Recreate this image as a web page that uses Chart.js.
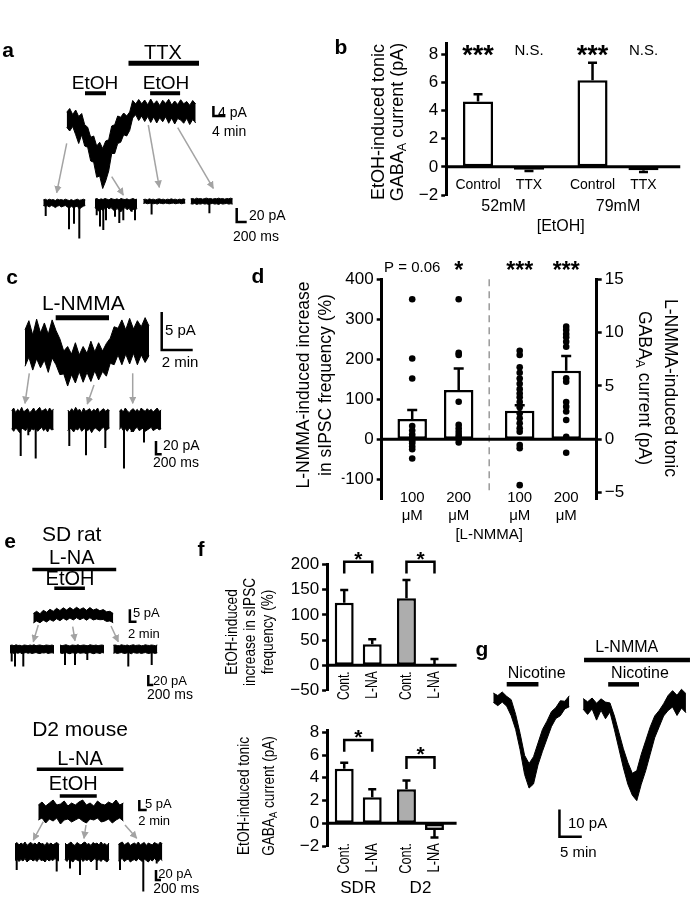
<!DOCTYPE html>
<html>
<head>
<meta charset="utf-8">
<script src="https://cdn.jsdelivr.net/npm/chart.js@4.4.0/dist/chart.umd.min.js"></script>
<style>
  html, body { margin: 0; background: #fff; }
  #fig { position: relative; width: 690px; height: 900px; overflow: hidden;
         font-family: "Liberation Sans", Arial, sans-serif; color: #000; }
  #fig canvas { position: absolute; }
  .tx { position: absolute; white-space: nowrap; line-height: 1; text-align: center; }
  .tx sub { font-size: 0.7em; vertical-align: -0.25em; line-height: 0; }
  svg { position: absolute; left: 0; top: 0; }
</style>
</head>
<body>
<div id="fig"></div>
<script>
const FONT = '"Liberation Sans", Arial, sans-serif';
Chart.defaults.font.family = FONT;
Chart.defaults.color = '#000';

// ---------- panel a : tonic current trace (pA, 1 min samples) ----------
const aMainTop = [3.5, 5.0, 2.6, 4.4, 1.8, 3.0, -1.5, -2.5, -6.5, -6.0, -10, -8.5, -11, -8, -7.5, -2.0, -1.5, 2.0, 1.5, 3.2, 2.0, 3.6,
                  8.2, 6.8, 8.6, 6.9, 8.4, 6.5, 8.8, 6.7, 8.1, 6.2, 8.3, 7.0, 8.7, 6.4, 8.0, 6.6, 8.5, 6.9, 7.8, 6.3, 8.2, 6.8];
const aMainBot = [-2.5, -4.0, -2.2, -5.5, -9.0, -5.5, -10, -10.5, -16, -16.5, -22.5, -22, -27, -24, -20, -13, -13, -9, -8.5, -5.5, -6, -3.8,
                  1.2, 2.5, 0.2, 2.0, -0.2, 1.8, -0.6, 1.6, -0.8, 1.3, -0.3, 1.7, -0.9, 1.2, -1.2, 1.0, 0.4, -0.9, 1.1, -1.4, 0.6, -0.8];
const aEtOH1 = [6.1, 13.1], aTTX = [20.6, 44.1], aEtOH2 = [27.8, 37.8];   // min
// sweeps (pA, 40 ms samples) and sIPSC events (ms, pA)
const aSw1Top = [4, 5, 3.5, 5, 4, 4.5, 3, 5, 4, 4.5, 3.5, 5, 4, 3, 4.5, 3, 4, 5, 3.5, 4, 5, 4];
const aSw1Bot = [-4, -5, -4.5, -6, -4, -5, -7, -5, -4, -6, -5, -4, -6, -8, -5, -7, -6, -5, -9, -7, -5, -4];
const aSw1EvT = [48, 514, 614, 720], aSw1EvA = [-19, -38, -30, -51];
const aSw2Top = [5, 6, 4, 5.5, 4.5, 6, 5, 4, 6, 5, 4.5, 5.5, 4, 6, 5, 4.5, 5.5, 4, 5, 6, 4.5, 5];
const aSw2Bot = [-7, -10, -12, -9, -11, -8, -6, -9, -7, -10, -12, -8, -11, -13, -9, -7, -10, -8, -12, -9, -11, -8];
const aSw2EvT = [34, 100, 166, 220, 400, 486, 566, 734, 800], aSw2EvA = [-18, -34, -39, -25, -20, -29, -25, -13, -25];
const aSw3Top = [4.5, 5, 4, 5.5, 4.5, 5, 4, 5, 5.5, 4.5, 5, 4, 5, 4.5, 5.5, 4.5, 5, 4, 5, 4.5, 5.5, 4.5];
const aSw3Bot = [-1, -0.5, -1.5, -1, -0.5, -1.5, -1, -2, -0.5, -1, -1.5, -0.5, -1, -1.5, -1, -0.5, -1.5, -1, -0.5, -1.5, -1, -0.5];
const aSw3EvT = [166], aSw3EvA = [-17];
const aSw4Top = [5.5, 6, 5, 6.5, 5.5, 6, 5, 6, 6.5, 5.5, 6, 5, 6, 5.5, 6.5, 5.5, 6, 5, 6, 5.5, 6.5, 5.5];
const aSw4Bot = [-1.5, -2, -1, -2.5, -1.5, -2, -1, -2, -1.5, -2.5, -1.5, -1, -2, -1.5, -2.5, -1, -2, -1.5, -1, -2, -1.5, -2];
const aSw4EvT = [374], aSw4EvA = [-15];

// ---------- panel b ----------
const bGroups = ['52mM', '79mM'];
const bControl = [4.65, 6.15], bControlErr = [0.5, 1.25];
const bTTX = [-0.2, -0.25], bTTXErr = [0.1, 0.12];
const bSig = [['***', '***'], ['N.S.', 'N.S.']];
const bTicks = [-2, 0, 2, 4, 6, 8];

// ---------- panel c ----------
const cMainTop = [2.0, 3.2, 1.3, 3.4, 1.6, 2.9, 1.4, 3.3, 1.9, 0.8, -0.8, -0.2, -1.2, 0.3, -1.3, -0.2, -1.1, 0.5, -0.9, 0.3, -0.8, 0.2,
                  0.9, 2.4, 2.2, 3.3, 2.0, 3.5, 2.1, 3.2, 2.4, 3.6, 2.5];
const cMainBot = [-2.8, -1.6, -3.3, -1.8, -3.0, -2.0, -3.6, -1.7, -2.6, -3.9, -3.8, -5.4, -3.9, -5.0, -3.5, -4.9, -3.6, -4.8, -3.4, -4.6, -3.5, -4.1,
                  -2.4, -2.6, -1.3, -2.6, -1.2, -2.5, -1.1, -2.6, -1.3, -2.3, -1.4];
const cLNMMA = [1.98, 5.42];
const cSw1Top = [14, 18, 11, 16, 13, 19, 12, 15, 17, 11, 14, 18, 12, 16, 19, 13, 15, 17, 12, 18, 14, 16];
const cSw1Bot = [-13, -17, -12, -15, -19, -12, -14, -16, -11, -18, -13, -15, -12, -17, -14, -11, -16, -13, -18, -12, -15, -14];
const cSw1EvT = [316, 583, 842], cSw1EvA = [-54, -23, -58];
const cSw2Top = [15, 12, 17, 13, 19, 14, 16, 11, 18, 13, 15, 17, 12, 16, 14, 18, 11, 15, 17, 13, 16, 14];
const cSw2Bot = [-16, -12, -14, -18, -13, -15, -11, -17, -14, -12, -16, -13, -19, -14, -12, -15, -17, -13, -11, -16, -14, -12];
const cSw2EvT = [56, 642, 1320], cSw2EvA = [-39, -53, -42];
const cSw3Top = [13, 16, 12, 18, 14, 11, 15, 17, 13, 16, 12, 18, 15, 13, 17, 14, 16, 12, 15, 18, 13, 15];
const cSw3Bot = [-14, -11, -16, -13, -17, -12, -15, -18, -13, -11, -16, -14, -12, -17, -15, -13, -11, -16, -14, -12, -15, -13];
const cSw3EvT = [165, 435, 867], cSw3EvA = [-73, -18, -34];

// ---------- panel d ----------
const dConc = ['100 μM', '200 μM'];
const dFreq = [51, 123], dFreqErr = [22, 54];
const dTonic = [2.68, 6.43], dTonicErr = [0.52, 1.37];
const dFreqDots100 = [350, 202, 152, 33, 22, 12, 5, 0, -5, -10, -18, -25, -48];
const dFreqDots200 = [350, 216, 211, 94, 36, 27, 19, 11, 5, 0, -8];
const dTonicDots100 = [8.3, 7.9, 6.75, 6.24, 5.7, 5.2, 4.7, 4.3, 3.94, 3.5, 3.0, 2.44, 1.97, 1.5, 1.03, 0.71, -0.53, -0.84, -4.3];
const dTonicDots200 = [10.56, 10.25, 9.87, 9.56, 9.15, 8.68, 5.72, 5.4, 3.5, 3.06, 2.6, 1.81, 0.24, -1.26];
const dSig = ['P = 0.06', '*', '***', '***'];
const dTicksL = [-100, 0, 100, 200, 300, 400];
const dTicksR = [-5, 0, 5, 10, 15];

// ---------- panel e ----------
const e1MainTop = [1.0, 1.9, 0.9, 2.3, 1.5, 2.7, 1.9, 3.1, 2.2, 3.3, 2.4, 3.4, 2.5, 3.5, 2.6, 3.3, 2.3, 3.4, 2.4, 2.9, 2.1, 2.6, 1.7, 1.9, 1.0];
const e1MainBot = [-2.8, -2.0, -2.7, -1.7, -2.4, -1.4, -2.1, -1.1, -1.9, -0.9, -1.7, -0.8, -1.6, -0.7, -1.5, -0.8, -1.7, -0.7, -1.6, -1.2, -1.5, -1.4, -2.2, -2.0, -2.7];
const e1LNA = [-0.3, 24.9], e1EtOH = [6.3, 15.5];
const e2MainTop = [3.5, 5.0, 3.0, 4.5, 6.0, 3.5, 4.0, 5.5, 3.0, 4.5, 3.5, 5.0, 6.0, 3.5, 4.5, 3.0, 5.5, 4.0, 3.5, 5.0, 4.0, 6.0, 3.5, 4.5];
const e2MainBot = [-4.0, -3.0, -5.5, -3.5, -4.5, -3.0, -6.0, -4.0, -3.5, -5.0, -4.0, -3.0, -4.5, -5.5, -3.5, -4.0, -3.0, -5.0, -4.5, -3.5, -5.5, -4.0, -3.0, -4.5];
const e2LNA = [-0.4, 23], e2EtOH = [5.8, 15.8];
const eSw1Top = [7, 8, 6.5, 8.5, 7, 7.5, 6, 8, 7.5, 6.5, 8, 7, 8.5, 6.5, 7.5, 8, 7, 6.5, 8, 7.5, 7, 8, 6.5];
const eSw1Bot = [-8, -7, -9, -7.5, -8.5, -7, -9.5, -8, -7, -8.5, -7.5, -9, -8, -7, -8.5, -9, -7.5, -8, -7, -9, -8, -7.5, -8.5];
const eSw1EvT = [68, 200, 532], eSw1EvA = [-25, -35, -35];
const eSw2Top = [8, 6.5, 7.5, 8.5, 7, 6, 8, 7.5, 7, 8.5, 6.5, 7.5, 8, 7, 6.5, 8.5, 7.5, 7, 8, 6.5, 7.5, 8, 7];
const eSw2Bot = [-7.5, -9, -8, -7, -8.5, -9.5, -7.5, -8, -9, -7, -8.5, -8, -7.5, -9, -8, -7, -8.5, -9.5, -7.5, -8, -9, -7, -8];
const eSw2EvT = [200, 600, 1092], eSw2EvA = [-32, -32, -22];
const eSw3Top = [7.5, 8, 7, 6.5, 8.5, 7.5, 7, 8, 6.5, 7.5, 8.5, 7, 7.5, 8, 6.5, 7, 8.5, 7.5, 7, 8, 7.5, 6.5, 8];
const eSw3Bot = [-8.5, -7.5, -9, -8, -7, -8.5, -9, -7.5, -8, -9.5, -7, -8, -8.5, -7.5, -9, -8, -7, -8.5, -9, -7.5, -8, -9, -7.5];
const eSw3EvT = [600, 1536], eSw3EvA = [-35, -32];
const eSw4Top = [16, 19, 14, 18, 15, 20, 13, 17, 19, 15, 18, 14, 20, 16, 17, 13, 19, 15, 18, 14, 17, 19, 15];
const eSw4Bot = [-17, -14, -19, -15, -18, -13, -20, -16, -14, -18, -15, -19, -13, -17, -16, -20, -14, -18, -15, -17, -13, -16, -18];
const eSw4EvT = [68, 1668], eSw4EvA = [-36, -39];
const eSw5Top = [18, 14, 17, 20, 15, 13, 19, 16, 14, 18, 20, 15, 17, 13, 19, 16, 18, 14, 20, 15, 17, 13, 18];
const eSw5Bot = [-15, -19, -13, -17, -20, -14, -16, -18, -13, -19, -15, -17, -14, -20, -16, -13, -18, -15, -19, -14, -17, -20, -15];
const eSw5EvT = [200, 600, 1268], eSw5EvA = [-33, -46, -36];
const eSw6Top = [15, 18, 20, 14, 17, 19, 13, 16, 18, 15, 20, 14, 17, 19, 13, 18, 16, 14, 19, 17, 15, 20, 16];
const eSw6Bot = [-18, -15, -13, -19, -16, -14, -20, -17, -15, -18, -13, -16, -19, -14, -17, -20, -15, -18, -13, -16, -19, -14, -17];
const eSw6EvT = [68, 1000, 1536], eSw6EvA = [-36, -79, -23];

// ---------- panel f ----------
const fGroups = ['SDR', 'D2'];
const fFreqCont = [124, 132.7], fFreqContErr = [25, 36];
const fFreqLNA = [41.5, 1.5], fFreqLNAErr = [10, 11];
const fTonicCont = [4.8, 2.99], fTonicContErr = [0.53, 0.76];
const fTonicLNA = [2.28, -0.6], fTonicLNAErr = [0.71, 0.65];
const fFreqTicks = [-50, 0, 50, 100, 150, 200];
const fTonicTicks = [-2, 0, 2, 4, 6, 8];

// ---------- panel g (pA, 1 min samples) ----------
const gTr1Top = [1.8, 0.9, 2.2, 0.6, -0.6, -6, -13, -21, -24, -21.5, -16.5, -11.5, -8.5, -5, -3.5, -1, -1.2, 0.8];
const gTr1Bot = [-1.6, -2.8, -1.5, -3.0, -6.5, -11.5, -19, -28, -33, -31.5, -24.5, -19.5, -15, -10.5, -7.5, -6.5, -4, -3.2];
const gTr2Top = [2.4, 1.2, 2.6, 0.7, 2.3, 1.1, 0.8, -4, -10, -16, -21, -25, -24, -18, -13, -8, -4, -2, 0.5, 3.5, 5.3, 3.6, 5.8, 4.2];
const gTr2Bot = [-1.5, -3.4, -1.4, -5.5, -1.9, -5.0, -2.5, -9, -16, -23, -29, -33, -35, -29, -24, -18, -12, -8, -4, -2, -0.7, -3.8, -1.1, -2.8];
const gNic1 = [3.0, 10.1], gNic2 = [25.7, 32.6], gLNMMA = [20.3, 44.0];

const fig = document.getElementById('fig');

function mkCanvas(b) {
  const cv = document.createElement('canvas');
  cv.width = b.w; cv.height = b.h;
  cv.style.left = b.l + 'px'; cv.style.top = b.t + 'px';
  fig.appendChild(cv);
  return cv;
}

const sampleTimes = (n, dt, t0) => Array.from({ length: n }, (_, i) => t0 + i * dt);

function band(top, bot, dt, t0, dy) {
  const xs = sampleTimes(top.length, dt, t0 || 0);
  dy = dy || 0;
  return [
    { data: top.map((v, i) => ({ x: xs[i], y: v + dy })), borderColor: '#000', borderWidth: 1, fill: false },
    { data: bot.map((v, i) => ({ x: xs[i], y: v + dy })), borderColor: '#000', borderWidth: 1, fill: '-1', backgroundColor: '#000' }
  ];
}

function spikes(ts, amps, t0) {
  return {
    data: ts.flatMap((t, i) => [{ x: t0 + t, y: 0 }, { x: t0 + t, y: amps[i] }, { x: t0 + t, y: null }]),
    borderColor: '#000', borderWidth: 2, fill: false, spanGaps: false
  };
}

function drug(span, level, w) {
  return { data: [{ x: span[0], y: level }, { x: span[1], y: level }], borderColor: '#000', borderWidth: w, fill: false, borderCapStyle: 'butt' };
}

function scaleBar(x, y, dy, dx) {
  return { data: [{ x, y: y + dy }, { x, y }, { x: x + dx, y }], borderColor: '#000', borderWidth: 2.5, fill: false,
           borderCapStyle: 'butt', borderJoinStyle: 'miter' };
}

// trace chart: m = page px of x=0,y=0 and px per unit
function traceChart(b, m, datasets) {
  return new Chart(mkCanvas(b), {
    type: 'line',
    data: { datasets },
    options: {
      responsive: false, animation: false, events: [],
      layout: { padding: 0 },
      plugins: { legend: { display: false }, tooltip: { enabled: false } },
      elements: { point: { radius: 0 }, line: { tension: 0 } },
      scales: {
        x: { type: 'linear', display: false, min: (b.l - m.x0) / m.sx, max: (b.l + b.w - m.x0) / m.sx },
        y: { type: 'linear', display: false, min: (m.y0 - b.t - b.h) / m.sy, max: (m.y0 - b.t) / m.sy }
      }
    }
  });
}

// ---------- bar chart extras: zero line, error bars, dots, labels ----------
const figx = {
  id: 'figx',
  afterDatasetsDraw(chart, args, o) {
    const c = chart.ctx, A = chart.chartArea, sy = chart.scales.y;
    const metas = chart.data.datasets.map((d, i) => chart.getDatasetMeta(i));
    const val = (di, i) => chart.data.datasets[di].data[i];
    const y0 = sy.getPixelForValue(0);
    const font = f => f + ' ' + FONT;
    c.save();
    c.strokeStyle = '#000'; c.fillStyle = '#000'; c.lineCap = 'butt';

    if (o.split) {
      const x = chart.scales.x.getPixelForValue(0.5);
      c.save(); c.strokeStyle = '#9a9a9a'; c.lineWidth = 1.5; c.setLineDash([7, 5]);
      c.beginPath(); c.moveTo(x, sy.getPixelForValue(o.split[0])); c.lineTo(x, sy.getPixelForValue(o.split[1])); c.stroke();
      c.restore();
    }
    if (o.zeroExtend != null) {
      c.lineWidth = 3;
      c.beginPath(); c.moveTo(A.left - 1, y0); c.lineTo(A.right + o.zeroExtend, y0); c.stroke();
    }
    (o.errors || []).forEach((errs, di) => {
      const ys = chart.scales[metas[di].yAxisID];
      metas[di].data.forEach((b, i) => {
        const v = val(di, i), e = errs[i];
        if (v == null || e == null) return;
        const s = v < 0 ? -1 : 1;
        const ya = ys.getPixelForValue(v), yb = ys.getPixelForValue(v + s * e);
        c.lineWidth = 2.5;
        c.beginPath(); c.moveTo(b.x, ya); c.lineTo(b.x, yb);
        c.moveTo(b.x - o.cap, yb); c.lineTo(b.x + o.cap, yb); c.stroke();
      });
    });
    (o.dots || []).forEach((vals, di) => {
      const ys = chart.scales[metas[di].yAxisID];
      const i = chart.data.datasets[di].data.findIndex(v => v != null);
      const x = metas[di].data[i].x;
      vals.forEach(v => { c.beginPath(); c.arc(x, ys.getPixelForValue(v), o.dotR, 0, 2 * Math.PI); c.fill(); });
    });
    (o.sig || []).forEach((row, di) => row.forEach((t, i) => {
      if (!t) return;
      const star = t[0] === '*';
      c.font = font(star ? o.starFont : o.sigFont);
      c.textAlign = 'center'; c.textBaseline = 'alphabetic';
      c.fillText(t, metas[di].data[i].x, A.top + (star ? o.starY : o.sigY));
    }));
    if (o.brackets) {
      const B = o.brackets;
      B.y.forEach((yv, i) => {
        const xa = metas[0].data[i].x, xb = metas[1].data[i].x;
        const yp = sy.getPixelForValue(yv), yl = sy.getPixelForValue(B.leg[i]);
        c.lineWidth = 2.5;
        c.beginPath(); c.moveTo(xa, yl); c.lineTo(xa, yp); c.lineTo(xb, yp); c.lineTo(xb, yl); c.stroke();
        c.font = font(B.font); c.textAlign = 'center'; c.textBaseline = 'alphabetic';
        c.fillText(B.text[i], (xa + xb) / 2, yp + B.dy);
      });
    }
    if (o.barText) {
      const T = o.barText;
      metas.forEach((m, di) => {
        const lines = chart.data.datasets[di].label.split(' ');
        m.data.forEach((b, i) => {
          if (val(di, i) == null) return;
          c.font = font(T.font); c.textBaseline = 'middle';
          if (T.rot) {
            c.save(); c.translate(b.x, y0 + T.dy[0]); c.rotate(-Math.PI / 2); c.scale(T.squeeze || 1, 1);
            c.textAlign = 'right'; c.fillText(lines.join(' '), 0, 0); c.restore();
          } else {
            c.textAlign = 'center';
            lines.forEach((s, k) => c.fillText(s, b.x, y0 + T.dy[k]));
          }
        });
      });
    }
    if (o.groupText) {
      const G = o.groupText;
      c.font = font(G.font); c.textAlign = 'center'; c.textBaseline = 'middle';
      chart.data.labels.forEach((s, i) => c.fillText(s, chart.scales.x.getPixelForValue(i), y0 + G.dy));
    }
    if (o.axisText) {
      c.font = font(o.axisText.font); c.textAlign = 'center'; c.textBaseline = 'middle';
      c.fillText(o.axisText.text, (A.left + A.right) / 2, y0 + o.axisText.dy);
    }
    c.restore();
  }
};

const tickFmt = v => v < 0 ? '\u2212' + Math.abs(v) : String(v);

function yAxis(min, max, ticks, width, extra) {
  return Object.assign({
    type: 'linear', min, max,
    afterBuildTicks: s => { s.ticks = ticks.map(v => ({ value: v })); },
    afterFit: s => { s.width = width; },
    ticks: { color: '#000', font: { size: 17 }, padding: 3, autoSkip: false, callback: tickFmt },
    grid: { drawOnChartArea: false, drawTicks: true, tickLength: 5, tickWidth: 2.5, tickColor: '#000' },
    border: { display: true, color: '#000', width: 3 }
  }, extra || {});
}

function bars(label, data, colors, extra) {
  return Object.assign({ label, data, backgroundColor: colors, borderColor: '#000', borderWidth: 2.5, borderSkipped: false }, extra);
}

function barChart(b, pad, labels, datasets, scales, fx) {
  return new Chart(mkCanvas(b), {
    type: 'bar',
    data: { labels, datasets },
    options: {
      responsive: false, animation: false, events: [],
      layout: { padding: pad },
      plugins: { legend: { display: false }, tooltip: { enabled: false }, figx: fx },
      scales: Object.assign({ x: { display: false } }, scales)
    },
    plugins: [figx]
  });
}

// ---------- a ----------
traceChart({ l: 40, t: 55, w: 210, h: 140 }, { x0: 66.7, y0: 121, sx: 3, sy: 2.5 }, [
  ...band(aMainTop, aMainBot, 1, 0),
  drug(aEtOH1, 11.1, 4), drug(aTTX, 23.1, 5), drug(aEtOH2, 11.1, 4),
  scaleBar(48.9, 2, 4, 4)
]);
traceChart({ l: 35, t: 192, w: 220, h: 50 }, { x0: 43.3, y0: 202.7, sx: 0.05, sy: 0.7 }, [
  ...band(aSw1Top, aSw1Bot, 40, 0), spikes(aSw1EvT, aSw1EvA, 0),
  ...band(aSw2Top, aSw2Bot, 40, 1034), spikes(aSw2EvT, aSw2EvA, 1034),
  ...band(aSw3Top, aSw3Bot, 40, 2000), spikes(aSw3EvT, aSw3EvA, 2000),
  ...band(aSw4Top, aSw4Bot, 40, 2948), spikes(aSw4EvT, aSw4EvA, 2948),
  scaleBar(3868, -27.6, 20, 200)
]);

// ---------- b ----------
barChart({ l: 400, t: 20, w: 290, h: 240 }, { left: 6.25, right: 14.75, top: 23, bottom: 65 }, bGroups, [
  bars('Control', bControl, '#fff', { categoryPercentage: 0.89, barPercentage: 0.59 }),
  bars('TTX', bTTX, '#fff', { categoryPercentage: 0.89, barPercentage: 0.59 })
], { y: yAxis(-2, 8.8, bTicks, 40) }, {
  zeroExtend: 5, cap: 4.5, errors: [bControlErr, bTTXErr],
  sig: bSig, starFont: 'bold 27px', starY: 21, sigFont: '15px', sigY: 12,
  barText: { dy: [18], font: '14px' },
  groupText: { dy: 39.5, font: '16px' },
  axisText: { text: '[EtOH]', dy: 60, font: '16px' }
});

// ---------- c ----------
traceChart({ l: 10, t: 305, w: 190, h: 85 }, { x0: 25, y0: 345, sx: 15.5, sy: 7.6 }, [
  ...band(cMainTop, cMainBot, 0.25, 0),
  drug(cLNMMA, 3.6, 5),
  scaleBar(8.82, -0.66, 5, 2)
]);
traceChart({ l: 5, t: 400, w: 170, h: 75 }, { x0: 11.7, y0: 420, sx: 0.0285, sy: 0.665 }, [
  ...band(cSw1Top, cSw1Bot, 70, 0), spikes(cSw1EvT, cSw1EvA, 0),
  ...band(cSw2Top, cSw2Bot, 70, 1965), spikes(cSw2EvT, cSw2EvA, 1965),
  ...band(cSw3Top, cSw3Bot, 70, 3775), spikes(cSw3EvT, cSw3EvA, 3775),
  scaleBar(5063, -51.6, 20, 200)
]);

// ---------- d ----------
const dOpt = { categoryPercentage: 0.865, barPercentage: 0.634, skipNull: true };
barChart({ l: 320, t: 255, w: 370, h: 290 }, { left: 21.7, right: 53.3, top: 24.3, bottom: 45.7 }, ['sIPSC', 'tonic'], [
  bars(dConc[0], [dFreq[0], null], '#fff', Object.assign({ yAxisID: 'y' }, dOpt)),
  bars(dConc[1], [dFreq[1], null], '#fff', Object.assign({ yAxisID: 'y' }, dOpt)),
  bars(dConc[0], [null, dTonic[0]], '#fff', Object.assign({ yAxisID: 'y2' }, dOpt)),
  bars(dConc[1], [null, dTonic[1]], '#fff', Object.assign({ yAxisID: 'y2' }, dOpt))
], {
  y: yAxis(-150, 400, dTicksL, 40, { position: 'left' }),
  y2: yAxis(-5.625, 15, dTicksR, 40, { position: 'right' })
}, {
  split: [400, -128], zeroExtend: 0, cap: 5, dotR: 3.3,
  errors: [[dFreqErr[0], null], [dFreqErr[1], null], [null, dTonicErr[0]], [null, dTonicErr[1]]],
  dots: [dFreqDots100, dFreqDots200, dTonicDots100, dTonicDots200],
  sig: [[dSig[0], null], [dSig[1], null], [null, dSig[2]], [null, dSig[3]]],
  starFont: 'bold 23px', starY: -1, sigFont: '15px', sigY: -7.6,
  barText: { dy: [59, 77], font: '15px' },
  axisText: { text: '[L-NMMA]', dy: 96, font: '15px' }
});

// ---------- e ----------
traceChart({ l: 25, t: 560, w: 120, h: 70 }, { x0: 33.3, y0: 616, sx: 3.33, sy: 2.48 }, [
  ...band(e1MainTop, e1MainBot, 1, 0),
  drug(e1LNA, 18.8, 3.5), drug(e1EtOH, 11.2, 3.5),
  scaleBar(29, -2.3, 5, 2)
]);
traceChart({ l: 5, t: 638, w: 160, h: 50 }, { x0: 10, y0: 649, sx: 0.025, sy: 0.5 }, [
  ...band(eSw1Top, eSw1Bot, 80, 0), spikes(eSw1EvT, eSw1EvA, 0),
  ...band(eSw2Top, eSw2Bot, 80, 2000), spikes(eSw2EvT, eSw2EvA, 2000),
  ...band(eSw3Top, eSw3Bot, 80, 4132), spikes(eSw3EvT, eSw3EvA, 4132),
  scaleBar(5532, -72, 20, 200)
]);
traceChart({ l: 30, t: 762, w: 125, h: 66 }, { x0: 38.3, y0: 812, sx: 3.7, sy: 2 }, [
  ...band(e2MainTop, e2MainBot, 1, 0),
  drug(e2LNA, 21.4, 3.5), drug(e2EtOH, 8, 3.5),
  scaleBar(27.3, 1, 5, 2)
]);
traceChart({ l: 10, t: 838, w: 160, h: 58 }, { x0: 15, y0: 852, sx: 0.025, sy: 0.5 }, [
  ...band(eSw4Top, eSw4Bot, 80, 0), spikes(eSw4EvT, eSw4EvA, 0),
  ...band(eSw5Top, eSw5Bot, 80, 2000), spikes(eSw5EvT, eSw5EvA, 2000),
  ...band(eSw6Top, eSw6Bot, 80, 4132), spikes(eSw6EvT, eSw6EvA, 4132),
  scaleBar(5640, -56, 20, 200)
]);

// ---------- f ----------
const fOpt = { categoryPercentage: 0.9, barPercentage: 0.676 };
const fCols = ['#fff', '#adadad'];
barChart({ l: 270, t: 540, w: 200, h: 175 }, { left: 12.1, right: 18.4, top: 24.3, bottom: 24.4 }, fGroups, [
  bars('Cont.', fFreqCont, fCols, fOpt), bars('L-NA', fFreqLNA, fCols, fOpt)
], { y: yAxis(-50, 200, fFreqTicks, 45) }, {
  zeroExtend: 5, cap: 4, errors: [fFreqContErr, fFreqLNAErr],
  brackets: { y: [205, 205], leg: [182, 182], text: ['*', '*'], font: 'bold 21px', dy: 4 },
  barText: { rot: true, dy: [6], font: '16px', squeeze: 0.75 }
});
barChart({ l: 270, t: 715, w: 200, h: 185 }, { left: 12.1, right: 18.4, top: 15, bottom: 54 }, fGroups, [
  bars('Cont.', fTonicCont, fCols, fOpt), bars('L-NA', fTonicLNA, fCols, fOpt)
], { y: yAxis(-2, 8.2, fTonicTicks, 45) }, {
  zeroExtend: 5, cap: 4, errors: [fTonicContErr, fTonicLNAErr],
  brackets: { y: [7.32, 5.8], leg: [6.29, 4.77], text: ['*', '*'], font: 'bold 21px', dy: 4 },
  barText: { rot: true, dy: [20], font: '16px', squeeze: 0.8 },
  groupText: { dy: 65, font: '17px' }
});

// ---------- g ----------
const gTr2Start = 20.1, gTr2Shift = -2.6;
traceChart({ l: 485, t: 652, w: 205, h: 190 }, { x0: 493.3, y0: 698, sx: 4.47, sy: 2.73 }, [
  ...band(gTr1Top, gTr1Bot, 1, 0),
  ...band(gTr2Top, gTr2Bot, 1, gTr2Start, gTr2Shift),
  drug(gNic1, 5, 4.5), drug(gNic2, 5, 4.5), drug(gLNMMA, 13.9, 4.5),
  scaleBar(14.8, -50.8, 10, 5)
]);

// ---------- arrows from traces to sweeps ----------
const arrows = [
  [66.7, 143.3, 56.7, 192.7], [111.7, 176.7, 123.3, 195], [148.3, 125, 159.3, 187.3], [177.7, 127.7, 213.3, 188.3],
  [29.3, 373.3, 25, 403.3], [94, 385, 87.3, 404], [132.7, 373.3, 132.7, 403.3],
  [38.3, 625, 33.3, 641.7], [72.7, 626.7, 75, 640.7], [111, 626, 118.3, 641.7],
  [43.3, 821.7, 33.3, 840], [86, 825, 84, 838.3], [125, 825, 136.7, 838.3]
];
let svg = '<svg width="690" height="900" xmlns="http://www.w3.org/2000/svg"><defs>' +
  '<marker id="ah" viewBox="0 0 10 10" refX="9" refY="5" markerWidth="5" markerHeight="5" orient="auto">' +
  '<path d="M0,0 L10,5 L0,10 z" fill="#a3a3a3"/></marker></defs>';
arrows.forEach(a => {
  svg += `<line x1="${a[0]}" y1="${a[1]}" x2="${a[2]}" y2="${a[3]}" stroke="#a3a3a3" stroke-width="1.5" marker-end="url(#ah)"/>`;
});
svg += '</svg>';
fig.insertAdjacentHTML('beforeend', svg);

// ---------- text ----------
function txt(html, x, y, size, o) {
  o = o || {};
  const d = document.createElement('div');
  d.className = 'tx';
  d.innerHTML = html;
  d.style.left = x + 'px'; d.style.top = y + 'px'; d.style.fontSize = size + 'px';
  if (o.bold) d.style.fontWeight = 'bold';
  if (o.lh) d.style.lineHeight = o.lh + 'px';
  let tf = o.left ? 'translate(0,-50%)' : 'translate(-50%,-50%)';
  if (o.rot) tf += ` rotate(${o.rot}deg)`;
  if (o.sq) tf += ` scaleX(${o.sq})`;
  d.style.transform = tf;
  fig.appendChild(d);
}

// panel letters
[['a', 8, 49], ['b', 341, 46], ['c', 12, 276], ['d', 258, 275], ['e', 10, 540], ['f', 201, 548], ['g', 482, 648]]
  .forEach(p => txt(p[0], p[1], p[2], 21, { bold: true }));

// a
txt('EtOH', 95, 81.7, 19); txt('TTX', 163, 51.7, 20); txt('EtOH', 166, 82, 19);
txt('4 pA', 218, 112, 14, { left: true }); txt('4 min', 212, 131, 14, { left: true });
txt('20 pA', 249, 215, 14, { left: true }); txt('200 ms', 233, 236, 14, { left: true });
// b
txt('EtOH-induced tonic<br>GABA<sub>A</sub> current (pA)', 387.5, 122, 18, { rot: -90, lh: 19 });
// c
txt('L-NMMA', 83.3, 301.7, 21);
txt('5 pA', 165, 329.3, 15, { left: true }); txt('2 min', 161.7, 361, 15, { left: true });
txt('20 pA', 163, 445, 14, { left: true }); txt('200 ms', 153, 461.7, 14, { left: true });
// d
txt('L-NMMA-induced increase<br>in sIPSC frequency (%)', 314, 385, 17.5, { rot: -90, lh: 22 });
txt('L-NMMA-induced tonic<br>GABA<sub>A</sub> current (pA)', 658, 388, 17.5, { rot: 90, lh: 26 });
// e
txt('SD rat', 71.7, 533.3, 21); txt('L-NA', 71.7, 557.3, 20); txt('EtOH', 70, 578.3, 20);
txt('5 pA', 133, 611.7, 13, { left: true }); txt('2 min', 128, 633.3, 13, { left: true });
txt('20 pA', 153, 680, 13, { left: true }); txt('200 ms', 147, 694, 14, { left: true });
txt('D2 mouse', 80, 728.3, 21); txt('L-NA', 80, 758.3, 20); txt('EtOH', 73.3, 783.3, 20);
txt('5 pA', 145, 803.3, 13, { left: true }); txt('2 min', 138.3, 820, 13, { left: true });
txt('20 pA', 158.3, 873.3, 13, { left: true }); txt('200 ms', 153.3, 888.3, 14, { left: true });
// f
txt('EtOH-induced<br>increase in sIPSC<br>frequency (%)', 250, 632, 16, { rot: -90, lh: 18, sq: 0.85 });
txt('EtOH-induced tonic<br>GABA<sub>A</sub> current (pA)', 256, 796, 16, { rot: -90, lh: 25, sq: 0.85 });
// g
txt('L-NMMA', 626.7, 646.7, 16); txt('Nicotine', 536.7, 673, 16); txt('Nicotine', 640, 673, 16);
txt('10 pA', 568, 821.7, 15, { left: true }); txt('5 min', 560, 850.7, 15, { left: true });
</script>
</body>
</html>
